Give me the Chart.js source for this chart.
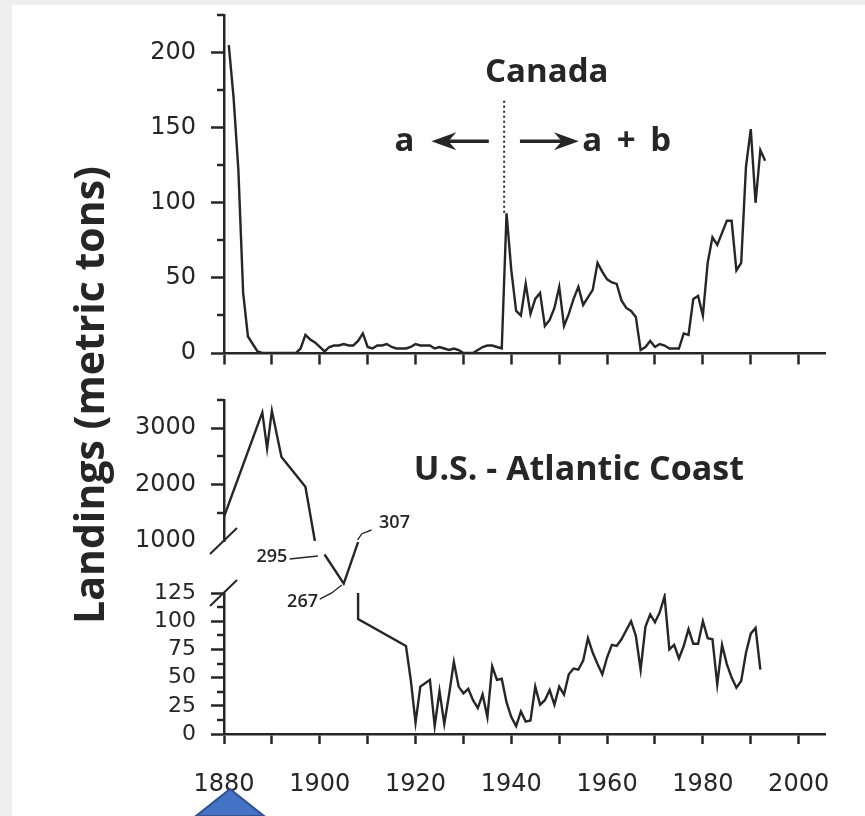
<!DOCTYPE html>
<html>
<head>
<meta charset="utf-8">
<script src="https://cdn.jsdelivr.net/npm/chart.js@4.4.1/dist/chart.umd.min.js"></script>
<style>
  html, body { margin: 0; padding: 0; background: #fff; }
  canvas { display: block; }
</style>
</head>
<body>
<canvas id="grafico" width="865" height="816"></canvas>
<script>
// Canada (a, depois a + b)
const canadaAnos = [
  1881, 1882, 1883, 1884, 1885, 1886, 1887, 1888, 1889, 1890,
  1891, 1892, 1893, 1894, 1895, 1896, 1897, 1898, 1899, 1900,
  1901, 1902, 1903, 1904, 1905, 1906, 1907, 1908, 1909, 1910,
  1911, 1912, 1913, 1914, 1915, 1916, 1917, 1918, 1919, 1920,
  1921, 1922, 1923, 1924, 1925, 1926, 1927, 1928, 1929, 1930,
  1931, 1932, 1933, 1934, 1935, 1936, 1937, 1938, 1939, 1940,
  1941, 1942, 1943, 1944, 1945, 1946, 1947, 1948, 1949, 1950,
  1951, 1952, 1953, 1954, 1955, 1956, 1957, 1958, 1959, 1960,
  1961, 1962, 1963, 1964, 1965, 1966, 1967, 1968, 1969, 1970,
  1971, 1972, 1973, 1974, 1975, 1976, 1977, 1978, 1979, 1980,
  1981, 1982, 1983, 1984, 1985, 1986, 1987, 1988, 1989, 1990,
  1991, 1992, 1993
];
const canadaValores = [
  205, 170, 122, 40, 11, 6, 1, 0, 0, 0,
  0, 0, 0, 0, 0, 3, 12, 9, 7, 4,
  1, 4, 5, 5, 6, 5, 5, 8, 13, 4,
  3, 5, 5, 6, 4, 3, 3, 3, 4, 6,
  5, 5, 5, 3, 4, 3, 2, 3, 2, 0,
  0, 0, 2, 4, 5, 5, 4, 3, 93, 55,
  28, 25, 46, 26, 36, 40, 18, 22, 30, 44,
  18, 26, 36, 44, 32, 37, 42, 60, 54, 49,
  47, 46, 35, 30, 28, 24, 2, 4, 8, 4,
  6, 5, 3, 3, 3, 13, 12, 36, 38, 25,
  60, 77, 72, 80, 88, 88, 55, 60, 124, 149,
  100, 135, 128
];

// U.S. - Atlantic Coast, parte alta (1000-3500)
const usAltoAnos = [1880, 1888, 1889, 1890, 1892, 1897, 1899];
const usAltoValores = [1430, 3280, 2640, 3310, 2490, 1960, 990];

// trecho entre as quebras (295, 267, 307)
const usMeioAnos = [1901, 1905, 1908];
const usMeioValores = [295, 267, 307];

// parte baixa (0-125)
const usBaixoAnos = [
  1908, 1908, 1918, 1919, 1920, 1921, 1922, 1923, 1924, 1925,
  1926, 1927, 1928, 1929, 1930, 1931, 1932, 1933, 1934, 1935,
  1936, 1937, 1938, 1939, 1940, 1941, 1942, 1943, 1944, 1945,
  1946, 1947, 1948, 1949, 1950, 1951, 1952, 1953, 1954, 1955,
  1956, 1957, 1958, 1959, 1960, 1961, 1962, 1963, 1964, 1965,
  1966, 1967, 1968, 1969, 1970, 1971, 1972, 1973, 1974, 1975,
  1976, 1977, 1978, 1979, 1980, 1981, 1982, 1983, 1984, 1985,
  1986, 1987, 1988, 1989, 1990, 1991, 1992
];
const usBaixoValores = [
  125, 102, 78, 48, 10, 42, 45, 48, 7, 38,
  9, 35, 64, 42, 36, 40, 30, 23, 35, 15,
  60, 48, 49, 28, 15, 7, 20, 11, 12, 42,
  26, 30, 39, 26, 42, 35, 53, 58, 57, 65,
  85, 72, 62, 53, 68, 79, 78, 84, 92, 100,
  87, 57, 95, 106, 99, 108, 122, 75, 79, 67,
  78, 93, 80, 80, 100, 85, 84, 44, 79, 62,
  50, 41, 47, 72, 89, 94, 57
];

// divisao a / a + b
const divisaoAno = 1938.5;
const divisaoValores = [168, 93];

// ticks
const anosTicks = [1880, 1890, 1900, 1910, 1920, 1930, 1940, 1950, 1960, 1970, 1980, 1990, 2000];
const canadaTicks = [0, 50, 100, 150, 200];
const usAltoTicks = [1000, 2000, 3000];
const usBaixoTicks = [0, 25, 50, 75, 100, 125];

const ink = '#262626';
const fonte = '"Open Sans", "DejaVu Sans", sans-serif';
const fonteNum = '"DejaVu Sans", sans-serif';
Chart.defaults.font.family = fonte;
Chart.defaults.color = ink;

function serie(anos, valores, eixo) {
  return {
    data: anos.map((a, i) => ({ x: a, y: valores[i] })),
    xAxisID: 'x',
    yAxisID: eixo,
    borderColor: ink,
    borderWidth: 2.4,
    pointRadius: 0,
    tension: 0,
    fill: false
  };
}

const divisao = serie([divisaoAno, divisaoAno], divisaoValores, 'yCan');
divisao.borderDash = [2, 3];
divisao.borderWidth = 2;

const larguraEixo = 100;
const fixaTicks = lista => s => { s.ticks = lista.map(v => ({ value: v })); };
// largura fixa e sem folga extra em cima/embaixo (os paineis ficam colados)
const ajustaEixo = s => { s.width = larguraEixo; s.paddingTop = 0; s.paddingBottom = 0; };

function eixoVazio(min, max, peso, ordem) {
  return {
    type: 'linear', position: 'left', stack: 'paineis', stackWeight: peso, weight: ordem,
    min, max,
    afterFit: ajustaEixo,
    border: { display: false },
    grid: { display: false },
    ticks: { display: false }
  };
}

function eixoY(min, max, lista, peso, ordem, tam, semTick) {
  return {
    type: 'linear', position: 'left', stack: 'paineis', stackWeight: peso, weight: ordem,
    min, max,
    afterBuildTicks: fixaTicks(lista),
    afterFit: ajustaEixo,
    border: { color: ink, width: 2.5 },
    grid: {
      drawOnChartArea: false, tickLength: 13, tickWidth: 2.5,
      tickColor: c => (semTick !== undefined && c.tick && c.tick.value === semTick) ? 'rgba(0,0,0,0)' : ink
    },
    ticks: {
      autoSkip: false, padding: 15, color: ink,
      font: { family: fonteNum, size: tam },
      callback: v => String(v)
    }
  };
}

// marcas menores nos eixos
const menores = [
  ['yCan', [25, 75, 125, 175, 225]],
  ['yHi', [1500, 2500, 3500]],
  ['yLo', [12.5, 37.5, 62.5, 87.5, 112.5]]
];

const textos = [
  { t: 'Canada', x: 1947.4, y: 186.7, eixo: 'yCan', tam: 33, esp: 0 },
  { t: 'a', x: 1917.7, y: 141, eixo: 'yCan', tam: 33, esp: 0 },
  { t: 'a + b', x: 1964.1, y: 141, eixo: 'yCan', tam: 33, esp: 3 },
  { t: 'U.S. - Atlantic Coast', x: 1954.1, y: 2259, eixo: 'yHi', tam: 34, esp: 0 },
  { t: '295', x: 1890, y: 292.6, eixo: 'yGap', tam: 18, esp: 0 },
  { t: '267', x: 1896.4, y: 249.5, eixo: 'yGap', tam: 18, esp: 0 },
  { t: '307', x: 1915.6, y: 325.3, eixo: 'yGap', tam: 18, esp: 0 }
];

const guias = [
  [[1893.7, 290.7], [1899.6, 293.6]],
  [[1900, 252.2], [1902.5, 258], [1904.6, 265.7]],
  [[1907.9, 309], [1908.8, 315], [1910.8, 318.6]]
];

const extras = {
  id: 'extras',
  beforeDraw(chart) {
    const c = chart.ctx;
    c.save();
    c.fillStyle = '#eeeeee';
    c.fillRect(0, 0, chart.width, chart.height);
    c.fillStyle = '#ffffff';
    c.fillRect(12, 5, chart.width - 12, chart.height - 5);
    c.restore();
  },
  afterDraw(chart) {
    const c = chart.ctx;
    const s = chart.scales;
    const esq = chart.chartArea.left;
    const X = v => s.x.getPixelForValue(v);
    c.save();
    c.strokeStyle = ink;
    c.fillStyle = ink;

    // marcas menores
    c.lineWidth = 2.5;
    menores.forEach(([id, vals]) => {
      vals.forEach(v => {
        const y = Math.round(s[id].getPixelForValue(v));
        c.beginPath();
        c.moveTo(esq - 7, y);
        c.lineTo(esq, y);
        c.stroke();
      });
    });

    // quebras do eixo
    c.lineWidth = 2;
    [s.yHi.getPixelForValue(1000), s.yLo.getPixelForValue(125)].forEach(y => {
      c.beginPath();
      c.moveTo(esq - 14, y + 13);
      c.lineTo(esq + 13, y - 13);
      c.stroke();
    });

    // setas a <- | -> a + b
    const yS = s.yCan.getPixelForValue(141);
    const seta = (x1, x2) => {
      const d = Math.sign(x2 - x1);
      c.lineWidth = 3.6;
      c.beginPath();
      c.moveTo(x1, yS);
      c.lineTo(x2 - d * 14, yS);
      c.stroke();
      c.beginPath();
      c.moveTo(x2, yS);
      c.lineTo(x2 - d * 25, yS - 9);
      c.lineTo(x2 - d * 17, yS);
      c.lineTo(x2 - d * 25, yS + 9);
      c.closePath();
      c.fill();
    };
    seta(X(1935.3), X(1923.3));
    seta(X(1941.8), X(1954.1));

    // guias dos valores 295, 267, 307
    c.lineWidth = 1.4;
    guias.forEach(g => {
      c.beginPath();
      g.forEach(([a, v], i) => {
        const px = X(a), py = s.yGap.getPixelForValue(v);
        if (i === 0) c.moveTo(px, py); else c.lineTo(px, py);
      });
      c.stroke();
    });

    // textos
    c.textAlign = 'center';
    c.textBaseline = 'middle';
    textos.forEach(o => {
      c.font = `${o.tam > 20 ? '700' : '600'} ${o.tam}px ${fonte}`;
      c.letterSpacing = o.esp + 'px';
      c.fillText(o.t, X(o.x) + o.esp / 2, s[o.eixo].getPixelForValue(o.y));
    });
    c.letterSpacing = '0px';

    // titulo do eixo
    c.save();
    c.translate(92, 395);
    c.rotate(-Math.PI / 2);
    c.font = `700 41px ${fonte}`;
    c.fillText('Landings (metric tons)', 0, 0);
    c.restore();

    // marcador azul no rodape
    c.beginPath();
    c.moveTo(230, 789);
    c.lineTo(264, 816);
    c.lineTo(196, 816);
    c.closePath();
    c.fillStyle = '#4472c4';
    c.fill();
    c.strokeStyle = '#2f528f';
    c.lineWidth = 2;
    c.stroke();
    c.restore();
  }
};

new Chart(document.getElementById('grafico'), {
  type: 'line',
  data: {
    datasets: [
      serie(canadaAnos, canadaValores, 'yCan'),
      divisao,
      serie(usAltoAnos, usAltoValores, 'yHi'),
      serie(usMeioAnos, usMeioValores, 'yGap'),
      serie(usBaixoAnos, usBaixoValores, 'yLo')
    ]
  },
  options: {
    responsive: false,
    animation: false,
    layout: { padding: { left: 224 - larguraEixo, right: 40, top: 15, bottom: 0 } },
    plugins: { legend: { display: false }, tooltip: { enabled: false } },
    scales: {
      x: {
        type: 'linear', position: 'bottom', min: 1880, max: 2005.5,
        afterBuildTicks: fixaTicks(anosTicks),
        afterFit: s => { s.height = 82; },
        border: { color: ink, width: 2.5 },
        grid: { drawOnChartArea: false, tickLength: 10, tickWidth: 2.5, tickColor: ink },
        ticks: {
          autoSkip: false, maxRotation: 0,
          padding: 26, color: ink, font: { family: fonteNum, size: 24 },
          callback: v => (v % 20 === 0 ? String(v) : '')
        }
      },
      xCan: {
        type: 'linear', axis: 'x', position: { yCan: 0 }, min: 1880, max: 2005.5,
        afterBuildTicks: fixaTicks(anosTicks),
        border: { color: ink, width: 2.5 },
        grid: { drawOnChartArea: false, tickLength: 10, tickWidth: 2.5, tickColor: ink },
        ticks: { autoSkip: false, display: false }
      },
      yCan: eixoY(0, 225, canadaTicks, 338, 5, 24),
      ySp: eixoVazio(0, 1, 47, 4),
      yHi: eixoY(1000, 3500, usAltoTicks, 141, 3, 24, 1000),
      yGap: eixoVazio(258, 308, 52, 2),
      yLo: eixoY(0, 125, usBaixoTicks, 141, 1, 22)
    }
  },
  plugins: [extras]
});
</script>
</body>
</html>
